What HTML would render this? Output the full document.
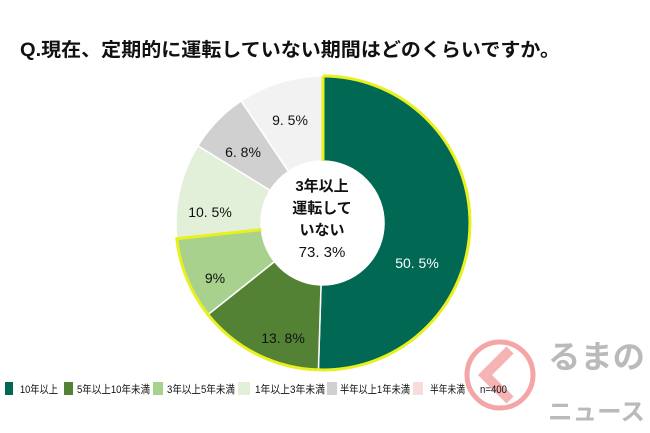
<!DOCTYPE html>
<html><head><meta charset="utf-8"><style>
body{margin:0;background:#fff;width:650px;height:433px;overflow:hidden;font-family:"Liberation Sans","Noto Sans CJK JP",sans-serif;}
</style></head><body>
<svg width="650" height="433" xmlns="http://www.w3.org/2000/svg" style="position:absolute;left:0;top:0">
<text x="20" y="56" font-size="19" font-weight="bold" fill="#111" textLength="540" lengthAdjust="spacingAndGlyphs" font-family="Liberation Sans,Noto Sans CJK JP,sans-serif">Q.現在、定期的に運転していない期間はどのくらいですか。</text>
<g stroke="#fff" stroke-width="1.5">
<path d="M323,76 A147,147 0 1 1 318.4,369.9 L321.05,285 A62,62 0 1 0 323,161 Z" fill="#006853"/>
<path d="M318.4,369.9 A147,147 0 0 1 208,314.6 L274.5,261.6 A62,62 0 0 0 321.05,285 Z" fill="#548235"/>
<path d="M208,314.6 A147,147 0 0 1 176.8,238.7 L261.4,229.6 A62,62 0 0 0 274.5,261.6 Z" fill="#a9d18e"/>
<path d="M176.8,238.7 A147,147 0 0 1 197.9,145.8 L270.2,190.4 A62,62 0 0 0 261.4,229.6 Z" fill="#e2f0d9"/>
<path d="M197.9,145.8 A147,147 0 0 1 241.2,100.9 L288.5,171.5 A62,62 0 0 0 270.2,190.4 Z" fill="#d0d0d0"/>
<path d="M241.2,100.9 A147,147 0 0 1 323,76 L323,161 A62,62 0 0 0 288.5,171.5 Z" fill="#f2f2f2"/>
</g>
<path d="M323,76 A147,147 0 1 1 176.8,238.7 L261.4,229.6" fill="none" stroke="#e8f020" stroke-width="3"/>
<line x1="323" y1="76" x2="323" y2="161" stroke="#e8f020" stroke-width="3"/>
<g font-size="14" fill="#111" text-anchor="middle" font-family="Liberation Sans,Noto Sans CJK JP,sans-serif">
<text x="417" y="268" fill="#fff">50. 5%</text>
<text x="283" y="343">13. 8%</text>
<text x="215" y="283">9%</text>
<text x="210" y="217">10. 5%</text>
<text x="243" y="157">6. 8%</text>
<text x="290" y="125">9. 5%</text>
<text x="322" y="191" font-size="15" font-weight="bold">3年以上</text>
<text x="322" y="213" font-size="15" font-weight="bold">運転して</text>
<text x="322" y="235" font-size="15" font-weight="bold">いない</text>
<text x="322" y="257" font-size="15">73. 3%</text>
</g>
<circle cx="500" cy="375" r="33" fill="none" stroke="#f08080" stroke-width="5" opacity="0.7"/>
<path d="M510,350 L485,375 L510,400" fill="none" stroke="#f08080" stroke-width="10" opacity="0.6"/>
<text x="548" y="368" font-size="32" fill="#aaa" opacity="0.8" font-weight="bold" textLength="97" lengthAdjust="spacingAndGlyphs" font-family="Liberation Sans,Noto Sans CJK JP,sans-serif">るまの</text>
<text x="548" y="420" font-size="24" fill="#aaa" opacity="0.8" font-weight="bold" textLength="97" lengthAdjust="spacingAndGlyphs" font-family="Liberation Sans,Noto Sans CJK JP,sans-serif">ニュース</text>
<g font-size="11" fill="#111" font-family="Liberation Sans,Noto Sans CJK JP,sans-serif" lengthAdjust="spacingAndGlyphs">
<rect x="5" y="382" width="8" height="13" fill="#006853"/><text x="20" y="393" textLength="38" lengthAdjust="spacingAndGlyphs">10年以上</text>
<rect x="64" y="382" width="9" height="13" fill="#548235"/><text x="77" y="393" textLength="73" lengthAdjust="spacingAndGlyphs">5年以上10年未満</text>
<rect x="153" y="382" width="10" height="13" fill="#a9d18e"/><text x="167" y="393" textLength="68" lengthAdjust="spacingAndGlyphs">3年以上5年未満</text>
<rect x="238" y="382" width="12" height="13" fill="#e2f0d9"/><text x="255" y="393" textLength="70" lengthAdjust="spacingAndGlyphs">1年以上3年未満</text>
<rect x="327" y="382" width="10" height="13" fill="#d0d0d0"/><text x="340" y="393" textLength="70" lengthAdjust="spacingAndGlyphs">半年以上1年未満</text>
<rect x="413" y="382" width="10" height="13" fill="#f4c4c4" opacity="0.6"/><text x="430" y="393" textLength="35" lengthAdjust="spacingAndGlyphs">半年未満</text>
<text x="480" y="393" textLength="27" lengthAdjust="spacingAndGlyphs">n=400</text>
</g>
</svg>
</body></html>
